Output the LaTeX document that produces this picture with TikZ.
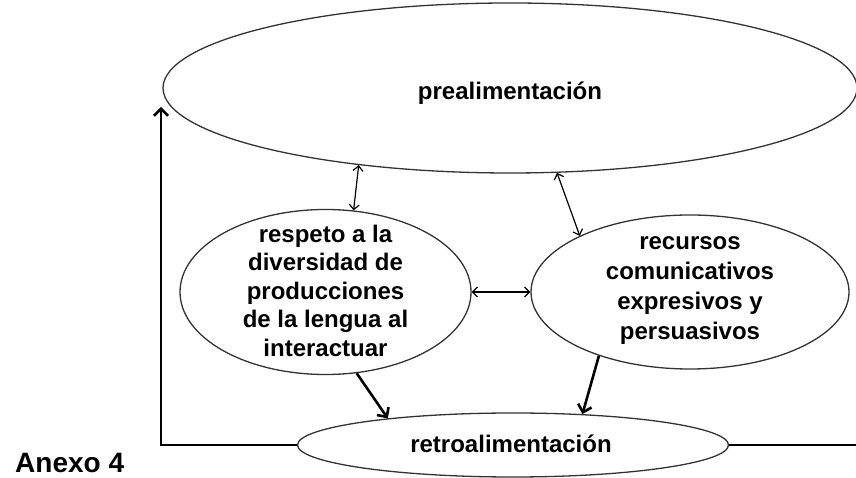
\documentclass[tikz,border=0pt]{standalone}
\usepackage{fontspec}
\setmainfont{Liberation Sans}
\usetikzlibrary{arrows.meta,shapes.geometric}
\begin{document}
\begin{tikzpicture}[x=1pt,y=1pt,
  oval/.style={draw=black!80,line width=1.3pt,ellipse,inner sep=0pt},
  lbl/.style={font=\bfseries\fontsize{24}{28.5}\selectfont,align=center,inner sep=0pt},
  thin arrow/.style={line width=1.2pt,{Straight Barb[length=5pt,width=10pt]}-{Straight Barb[length=5pt,width=10pt]}},
  thick arrow/.style={line width=2.6pt,-{Straight Barb[length=7pt,width=14pt]}},
  feed/.style={line width=2.6pt}]
\useasboundingbox (0,0) rectangle (856,478);
\node[oval,minimum width=694pt,minimum height=170pt] (T) at (510,390) {};
\node[oval,minimum width=291pt,minimum height=165pt] (L) at (325.5,186) {};
\node[oval,minimum width=318pt,minimum height=154pt] (R) at (690,186) {};
\node[oval,minimum width=431pt,minimum height=64pt] (B) at (513,33) {};
\node[lbl,anchor=base] (tT) at (510,378) {prealimentación};
\node[lbl] (tL) at (325.5,187.5) {respeto a la\\diversidad de\\producciones\\de la lengua al\\interactuar};
\node[lbl,font=\bfseries\fontsize{24}{30}\selectfont] (tR) at (690,187.5) {recursos\\comunicativos\\expresivos y\\persuasivos};
\node[lbl,anchor=base] (tB) at (511,25) {retroalimentación};
\node[lbl,anchor=base west,font=\bfseries\fontsize{28}{33}\selectfont] (ax) at (15,5) {Anexo 4};
\draw[thin arrow] (T.207.5) -- (L.71.8);
\draw[thin arrow] (T.299.7) -- (R.153.2);
\draw[thin arrow] (L.east) -- (R.west);
\draw[thick arrow] (L.291) -- (B.168.8);
\draw[thick arrow] (R.215.7) -- (B.24.6);
\coordinate (c1) at (161,33);
\coordinate (c2) at (161,371);
\coordinate (c3) at (856,33);
\draw[feed,-{Straight Barb[length=7pt,width=14pt]}] (B.west) -- (c1) -- (c2);
\draw[feed] (B.east) -- (c3);
\end{tikzpicture}
\end{document}
